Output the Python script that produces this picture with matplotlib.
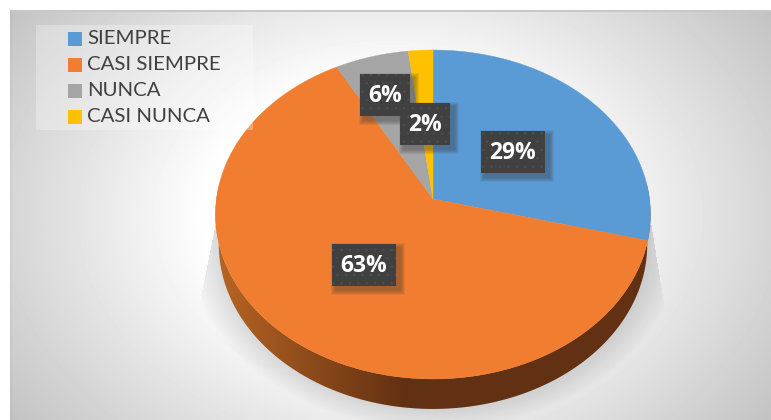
import matplotlib
matplotlib.use('Agg')
import matplotlib.pyplot as plt
from matplotlib.patches import Polygon, Rectangle
import numpy as np

categories = ['SIEMPRE', 'CASI SIEMPRE', 'NUNCA', 'CASI NUNCA']
values = [29, 63, 6, 2]
colors = ['#5b9bd5', '#f17e30', '#a5a5a5', '#ffc000']

W, H = 771, 420
cx, cy = 433, 199
rx, ry, k = 216.5, 163, 0.0942
depth = 30


def rim(a0, a1, n=200):
    # points on the tilted disc, angles clockwise from the top
    t = np.linspace(a0, a1, n)
    w = 1 + k*np.cos(t)
    return cx + rx*np.sin(t)/w, cy - ry*np.cos(t)/w


plt.rcParams['font.family'] = ['Lato', 'DejaVu Sans']
plt.rcParams['hatch.linewidth'] = 0.5
fig = plt.figure(figsize=(W/100, H/100), dpi=100)
ax = fig.add_axes([0, 0, 1, 1])
ax.set_xlim(0, W)
ax.set_ylim(H, 0)
ax.axis('off')

# background
yy, xx = np.mgrid[0:H, 0:W]
d = np.sqrt(((xx-390)/460.0)**2 + ((yy-215)/340.0)**2)
bg = np.clip(1.0 - 0.38*np.clip(d-0.4, 0, 1), 0, 1)
bg[:10, :] = 1
bg[:, :10] = 1
bg[10:12, 10:] = 0.78
bg[10:, 10:12] = bg[10:, 10:12]*0.97
ax.imshow(bg, cmap='gray', vmin=0, vmax=1, extent=[0, W, H, 0], zorder=0, aspect='auto')

# soft shadow under the pie, with the two tails up to the rim
dist = np.sqrt(((xx-433)/250.0)**2 + ((yy-235)/195.0)**2)
shadow = np.clip((1.0-dist)/0.22, 0, 1)*0.24
left = 215 - (yy-225)*15/75.0
right = 651 + (yy-225)*12/75.0
shadow[(yy < 305) & ((xx < left) | (xx > right))] = 0
shadow[yy < 225] = 0
ax.imshow(np.dstack([np.zeros((H, W, 3)), shadow]), extent=[0, W, H, 0], zorder=1, aspect='auto')

# side of the disc, only the front part shows
sx, sy = rim(np.pi/2-0.1, 3*np.pi/2+0.1, 400)
bx_low = cx + (sx-cx)*0.985
side = Polygon(np.r_[np.c_[sx, sy], np.c_[bx_low[::-1], sy[::-1]+depth]], closed=True, fc='none', ec='none', zorder=2)
ax.add_patch(side)
grad = np.clip((xx-215)/190.0, 0, 1)
c0 = np.array([0xb8, 0x65, 0x24])/255
c1 = np.array([0x62, 0x30, 0x12])/255
img = c0 + (c1-c0)*grad[..., None]
im = ax.imshow(img, extent=[0, W, H, 0], zorder=2, aspect='auto')
im.set_clip_path(side)

# top face
start = 0
fracs = np.array(values)/sum(values)*2*np.pi
for v, c in zip(fracs, colors):
    x, y = rim(start, start+v)
    ax.add_patch(Polygon(np.r_[[[cx, cy]], np.c_[x, y]], closed=True, fc=c, ec=c, lw=0.3, zorder=3))
    start += v

# data labels
boxes = [(481, 131), (332, 244), (360, 74), (400, 103)]
widths = [64, 64, 50, 50]
for v, (bx, by), bw in zip(values, boxes, widths):
    for g in range(5, 0, -1):
        ax.add_patch(Rectangle((bx+4-g, by+4-g), bw+2*g, 42+2*g, fc='#333333', ec='none', alpha=0.09, zorder=4))
    ax.add_patch(Rectangle((bx, by), bw, 42, fc='#404040', ec='#4e4e4e', hatch='..', lw=0, zorder=5))
    ax.text(bx+bw/2, by+22, '%d%%' % v, color='white', fontsize=16.5, fontweight='bold',
            family=['Open Sans', 'DejaVu Sans'], ha='center', va='center', zorder=6)

# legend
ax.add_patch(Rectangle((36, 25), 217, 105, fc='white', ec='none', alpha=0.3, zorder=7))
for i, (name, c) in enumerate(zip(categories, colors)):
    ly = 39 + 26*i
    ax.add_patch(Rectangle((68, ly-7), 14, 14, fc=c, ec='none', zorder=8))
    ax.text(87, ly, name, color='#404040', fontsize=14.7, va='center', ha='left', zorder=8)

fig.savefig('out.png', dpi=100)
